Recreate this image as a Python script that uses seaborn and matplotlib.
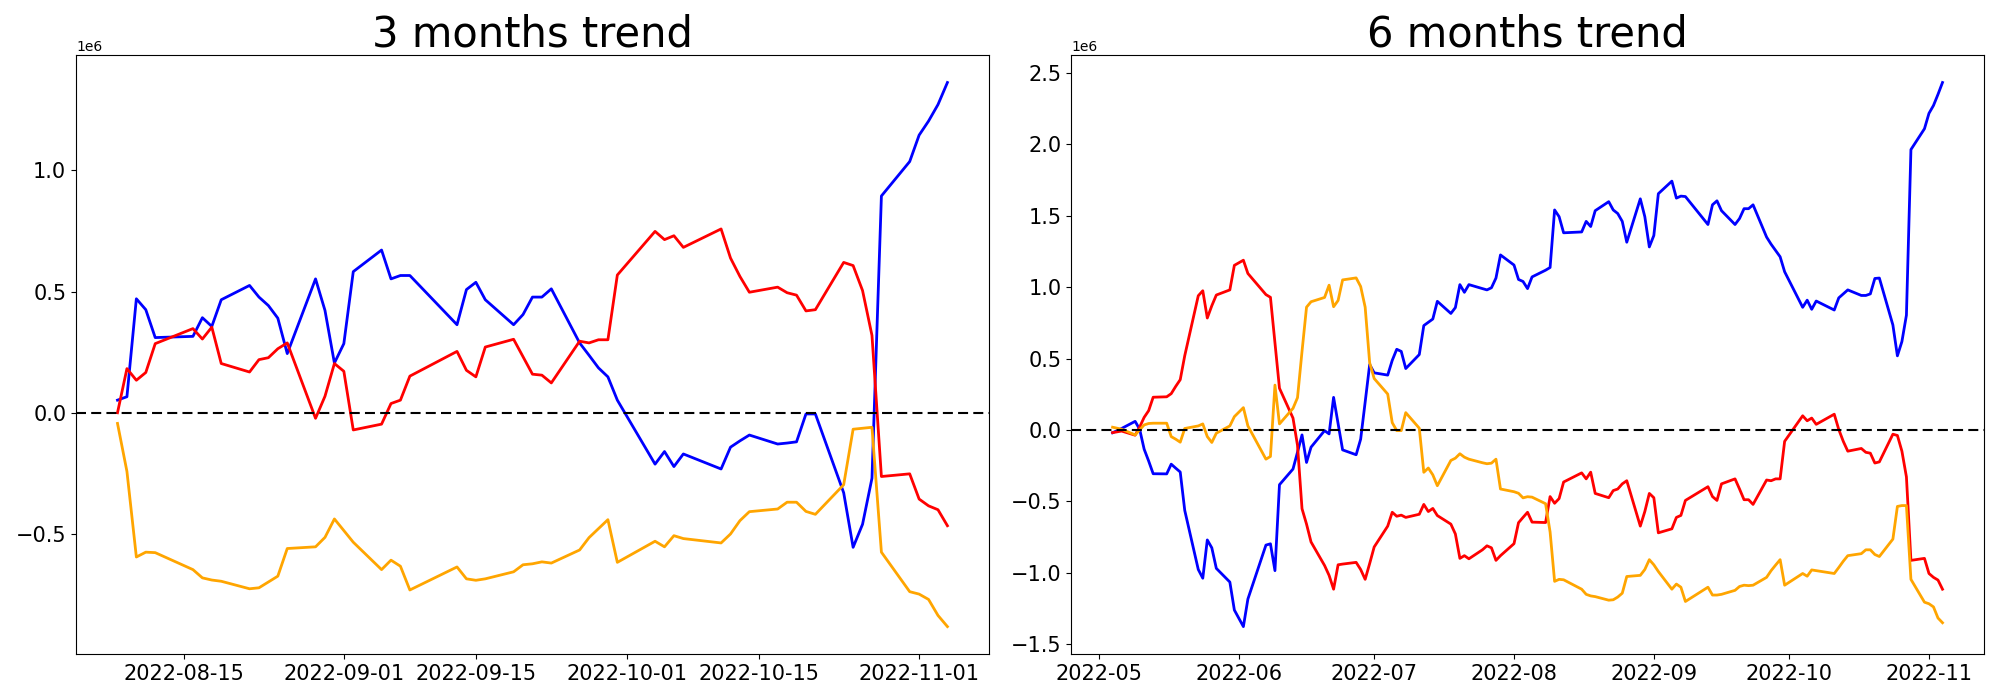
import pandas as pd
import numpy as np
import matplotlib
matplotlib.use('Agg')
import matplotlib.pyplot as plt
import seaborn as sns

# KRX holidays inside the plotted range (no trading on these days)
holidays = ['2022-05-05', '2022-06-01', '2022-06-06', '2022-08-15',
            '2022-09-09', '2022-09-12', '2022-10-03', '2022-10-10']

# 3 months panel (values in 1e6)
dates_3m = [d for d in pd.bdate_range('2022-08-08', '2022-11-04') if d.strftime('%Y-%m-%d') not in holidays]
blue_3m = [0.052, 0.066, 0.47, 0.425, 0.31, 0.315, 0.392, 0.356, 0.466, 0.525,
           0.477, 0.442, 0.39, 0.244, 0.552, 0.422, 0.205, 0.285, 0.582, 0.671,
           0.552, 0.566, 0.566, 0.363, 0.508, 0.538, 0.466, 0.363, 0.405, 0.477,
           0.477, 0.511, 0.288, 0.237, 0.185, 0.148, 0.052, -0.212, -0.16, -0.222,
           -0.17, -0.232, -0.142, -0.116, -0.092, -0.129, -0.125, -0.12, -0.005, -0.005,
           -0.33, -0.555, -0.46, -0.27, 0.894, 1.036, 1.145, 1.203, 1.271, 1.362]
red_3m = [0.0, 0.182, 0.134, 0.166, 0.285, 0.347, 0.304, 0.353, 0.203, 0.168,
          0.219, 0.227, 0.264, 0.288, -0.023, 0.068, 0.203, 0.171, -0.071, -0.047,
          0.038, 0.052, 0.151, 0.253, 0.175, 0.148, 0.271, 0.303, 0.231, 0.159,
          0.155, 0.123, 0.295, 0.288, 0.301, 0.301, 0.568, 0.748, 0.714, 0.73,
          0.682, 0.758, 0.638, 0.562, 0.497, 0.518, 0.495, 0.485, 0.42, 0.425,
          0.62, 0.607, 0.504, 0.319, -0.263, -0.252, -0.356, -0.384, -0.4, -0.466]
orange_3m = [-0.044, -0.242, -0.595, -0.575, -0.577, -0.647, -0.681, -0.69, -0.695, -0.726,
             -0.722, -0.698, -0.674, -0.56, -0.553, -0.514, -0.438, -0.486, -0.534, -0.647,
             -0.608, -0.633, -0.731, -0.636, -0.685, -0.691, -0.685, -0.656, -0.627, -0.623,
             -0.615, -0.62, -0.566, -0.515, -0.478, -0.441, -0.617, -0.53, -0.553, -0.507,
             -0.519, -0.537, -0.5, -0.445, -0.408, -0.397, -0.369, -0.369, -0.407, -0.419,
             -0.297, -0.068, -0.064, -0.06, -0.575, -0.738, -0.748, -0.77, -0.836, -0.882]

# 6 months panel (values in 1e6)
dates_6m = [d for d in pd.bdate_range('2022-05-04', '2022-11-04') if d.strftime('%Y-%m-%d') not in holidays]
blue_6m = [-0.02, 0.01, 0.06, 0.005, -0.135, -0.218, -0.307, -0.308, -0.24, -0.268,
           -0.295, -0.564, -0.978, -1.039, -0.771, -0.826, -0.97, -1.066, -1.262,
           -1.378, -1.185, -0.807, -0.798, -0.986, -0.384, -0.274, -0.156, -0.035, -0.228,
           -0.121, -0.005, -0.028, 0.228, 0.044, -0.14, -0.174, -0.065, 0.195, 0.458,
           0.4, 0.384, 0.487, 0.565, 0.55, 0.43, 0.528, 0.731, 0.754, 0.777,
           0.901, 0.816, 0.857, 1.018, 0.964, 1.018, 0.99, 0.981, 0.996, 1.064, 1.226,
           1.155, 1.054, 1.04, 0.99, 1.072, 1.119, 1.138, 1.541, 1.494, 1.381,
           1.387, 1.461, 1.425, 1.536, 1.599, 1.541, 1.516, 1.461, 1.315, 1.619,
           1.494, 1.282, 1.362, 1.655, 1.743, 1.624, 1.638, 1.635, 1.439, 1.577,
           1.605, 1.536, 1.439, 1.481, 1.55, 1.55, 1.577, 1.351, 1.301, 1.257,
           1.213, 1.108, 0.859, 0.909, 0.845, 0.903, 0.84, 0.925, 0.953, 0.981,
           0.942, 0.942, 0.953, 1.061, 1.064, 0.735, 0.519, 0.619, 0.804, 1.964,
           2.11, 2.218, 2.273, 2.351, 2.434]
red_6m = [-0.019, -0.008, -0.037, 0.02, 0.088, 0.135, 0.229, 0.232, 0.254, 0.305,
          0.352, 0.52, 0.94, 0.975, 0.784, 0.87, 0.945, 0.981, 1.153,
          1.189, 1.096, 0.948, 0.929, 0.61, 0.292, 0.083, -0.108, -0.552, -0.66,
          -0.785, -0.95, -1.019, -1.116, -0.945, -0.94, -0.928, -0.978, -1.047, -0.936,
          -0.82, -0.674, -0.577, -0.605, -0.597, -0.613, -0.591, -0.522, -0.572, -0.55,
          -0.6, -0.66, -0.729, -0.9, -0.881, -0.903, -0.84, -0.812, -0.826, -0.914, -0.881,
          -0.797, -0.65, -0.613, -0.577, -0.646, -0.649, -0.467, -0.514, -0.481, -0.365,
          -0.301, -0.343, -0.296, -0.445, -0.475, -0.425, -0.414, -0.378, -0.356, -0.674,
          -0.572, -0.445, -0.475, -0.721, -0.693, -0.613, -0.599, -0.494, -0.398, -0.467,
          -0.494, -0.378, -0.343, -0.414, -0.489, -0.489, -0.522, -0.351, -0.356, -0.343,
          -0.343, -0.08, 0.099, 0.064, 0.083, 0.039, 0.11, 0.003, -0.08, -0.149,
          -0.13, -0.157, -0.163, -0.232, -0.224, -0.03, -0.039, -0.149, -0.329, -0.914,
          -0.9, -1.006, -1.033, -1.052, -1.116]
orange_6m = [0.019, 0.005, -0.035, 0.0, 0.035, 0.045, 0.047, 0.047, -0.047, -0.065,
             -0.086, 0.01, 0.028, 0.042, -0.047, -0.088, -0.023, 0.028, 0.093,
             0.156, 0.028, -0.205, -0.186, 0.314, 0.042, 0.151, 0.226, 0.55, 0.86,
             0.898, 0.928, 1.014, 0.863, 0.907, 1.051, 1.065, 1.005, 0.86, 0.47,
             0.36, 0.251, 0.051, -0.005, -0.005, 0.121, 0.012, -0.297, -0.267, -0.315,
             -0.391, -0.214, -0.198, -0.167, -0.191, -0.205, -0.23, -0.237, -0.233, -0.205, -0.414,
             -0.433, -0.444, -0.476, -0.468, -0.471, -0.517, -0.715, -1.061, -1.047, -1.05,
             -1.116, -1.152, -1.163, -1.168, -1.193, -1.19, -1.171, -1.144, -1.027, -1.019,
             -0.978, -0.909, -0.945, -0.992, -1.116, -1.08, -1.102, -1.202, -1.102, -1.157,
             -1.157, -1.152, -1.124, -1.097, -1.088, -1.091, -1.088, -1.033, -0.986, -0.947,
             -0.909, -1.088, -1.006, -1.025, -0.981, -0.986, -1.006, -0.964, -0.92, -0.881,
             -0.867, -0.84, -0.84, -0.873, -0.887, -0.765, -0.536, -0.53, -0.53, -1.047,
             -1.207, -1.218, -1.24, -1.318, -1.351]

panels = [
    ('3 months trend', dates_3m, blue_3m, red_3m, orange_3m),
    ('6 months trend', dates_6m, blue_6m, red_6m, orange_6m),
]

fig, axes = plt.subplots(1, 2, figsize=(20, 7), dpi=100)
fig.subplots_adjust(left=0.038, right=0.992, top=0.921, bottom=0.066, wspace=0.09)

for ax, (title, dates, blue, red, orange) in zip(axes, panels):
    df = pd.DataFrame({'date': pd.to_datetime(dates),
                       'blue': np.array(blue) * 1e6,
                       'red': np.array(red) * 1e6,
                       'orange': np.array(orange) * 1e6})
    for col in ['blue', 'red', 'orange']:
        sns.lineplot(data=df, x='date', y=col, color=col, linewidth=2, ax=ax)
    ax.axhline(0, color='black', linestyle=(0, (4.8, 2.5)), linewidth=1.5)
    ax.set_title(title, fontsize=30)
    ax.set_xlabel('')
    ax.set_ylabel('')
    ax.tick_params(labelsize=15)

plt.savefig('out.png')
